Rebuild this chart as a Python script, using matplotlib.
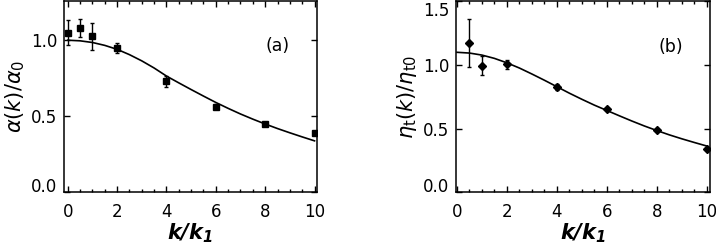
import numpy as np
import matplotlib
matplotlib.use("Agg")
import matplotlib.pyplot as plt
from matplotlib.ticker import MultipleLocator, FormatStrFormatter

plt.rcParams['font.family'] = ['DejaVu Sans']
plt.rcParams['mathtext.fontset'] = 'custom'
plt.rcParams['mathtext.rm'] = 'DejaVu Sans'
plt.rcParams['mathtext.it'] = 'DejaVu Sans:italic'
plt.rcParams['mathtext.bf'] = 'DejaVu Sans:bold:italic'

# panel (a): alpha(k)/alpha_0
k_a = [0, 0.5, 1, 2, 4, 6, 8, 10]
alpha_a = [1.05, 1.08, 1.025, 0.948, 0.73, 0.563, 0.45, 0.391]
alpha_err = [0.082, 0.058, 0.09, 0.032, 0.036, 0.015, 0.008, 0.008]

# panel (b): eta_t(k)/eta_t0
k_b = [0.5, 1, 2, 4, 6, 8, 10]
eta_b = [1.174, 0.995, 1.006, 0.829, 0.653, 0.487, 0.337]
eta_err = [0.187, 0.073, 0.036, 0.025, 0.01, 0.01, 0.01]

# fit curves, every 0.5
k_fit = [0, 0.5, 1, 1.5, 2, 2.5, 3, 3.5, 4, 4.5, 5, 5.5, 6, 6.5, 7,
         7.5, 8, 8.5, 9, 9.5, 10]
alpha_fit = [1.000, 0.996, 0.985, 0.966, 0.940, 0.905, 0.864, 0.817, 0.764,
             0.719, 0.675, 0.632, 0.590, 0.551, 0.514, 0.480, 0.448, 0.418,
             0.390, 0.363, 0.337]
eta_fit = [1.100, 1.094, 1.078, 1.052, 1.017, 0.976, 0.929, 0.880, 0.829,
           0.778, 0.730, 0.684, 0.642, 0.600, 0.559, 0.520, 0.484, 0.450,
           0.419, 0.390, 0.362]

fig = plt.figure(figsize=(7.16, 2.45), dpi=100)
ax1 = fig.add_axes([64/716, 53/245, 252.5/716, 190.5/245])
ax2 = fig.add_axes([456/716, 53/245, 254/716, 190.5/245])


def style(ax):
    for s in ax.spines.values():
        s.set_linewidth(1.1)
    ax.xaxis.set_major_locator(MultipleLocator(2))
    ax.xaxis.set_minor_locator(MultipleLocator(0.5))
    ax.tick_params(which='both', direction='in', top=True, right=True,
                   labelsize=12, width=1.0)
    ax.tick_params(which='major', length=4)
    ax.tick_params(which='minor', length=2.2)
    ax.tick_params(axis='x', pad=8)
    ax.tick_params(axis='y', pad=5)
    ax.yaxis.set_major_formatter(FormatStrFormatter('%.1f'))
    ax.set_xlabel(r'$\mathbf{k/k_1}$', fontsize=15, labelpad=0)


ax1.errorbar(k_a, alpha_a, yerr=alpha_err, fmt='s', ms=3.8, color='black',
             ecolor='black', elinewidth=1.0, capsize=1.5)
ax1.plot(k_fit, alpha_fit, color='black', lw=1.2)
ax1.set_xlim(-0.15, 10.08)
style(ax1)
ax1.set_yticks([0, 0.5, 1.0])
ax1.set_ylim(0, 1.255)
ax1.set_ylabel(r'$\alpha(k)/\alpha_0$', fontsize=15, labelpad=3)
ax1.text(0.847, 0.766, '(a)', transform=ax1.transAxes, fontsize=12.5,
         ha='center', va='center')

ax2.errorbar(k_b, eta_b, yerr=eta_err, fmt='D', ms=3.8, color='black',
             ecolor='black', elinewidth=1.0, capsize=1.5)
ax2.plot(k_fit, eta_fit, color='black', lw=1.2)
ax2.set_xlim(-0.04, 10.13)
style(ax2)
ax2.set_yticks([0, 0.5, 1.0, 1.5])
ax2.set_ylim(0, 1.5)
ax2.set_ylabel(r'$\eta_{\rm t}(k)/\eta_{\rm t0}$', fontsize=15, labelpad=3)
ax2.text(0.846, 0.759, '(b)', transform=ax2.transAxes, fontsize=12.5,
         ha='center', va='center')

ax1.yaxis.get_major_ticks()[0].label1.set_verticalalignment('baseline')
t2 = ax2.yaxis.get_major_ticks()
t2[0].label1.set_verticalalignment('baseline')
t2[-1].label1.set_verticalalignment('top')

fig.savefig('out.png', dpi=100)
